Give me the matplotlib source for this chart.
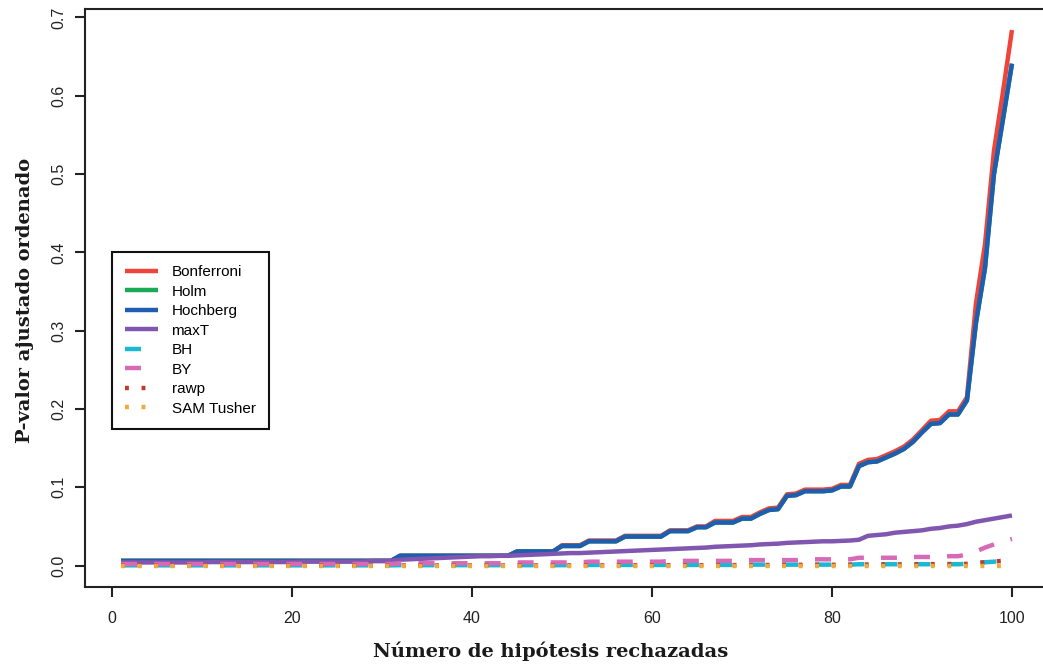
import numpy as np
import matplotlib
matplotlib.use("Agg")
import matplotlib.pyplot as plt

plt.rcParams['font.family'] = ['Liberation Sans', 'DejaVu Sans']
plt.rcParams['lines.scale_dashes'] = False

# rank of rejected hypothesis
n_rejected = list(range(1, 101))

# sorted adjusted p-values per procedure
bonferroni = [
    0.006, 0.006, 0.006, 0.006, 0.006, 0.006, 0.006, 0.006, 0.006, 0.006,
    0.006, 0.006, 0.006, 0.006, 0.006, 0.006, 0.006, 0.006, 0.006, 0.006,
    0.006, 0.006, 0.006, 0.006, 0.006, 0.006, 0.006, 0.006, 0.006, 0.006,
    0.006, 0.0125, 0.0125, 0.0125, 0.0125, 0.0125, 0.0125, 0.0125, 0.0125, 0.0125,
    0.0125, 0.0125, 0.0125, 0.0125, 0.018, 0.018, 0.018, 0.018, 0.018, 0.026,
    0.026, 0.026, 0.032, 0.032, 0.032, 0.032, 0.038, 0.038, 0.038, 0.038,
    0.038, 0.045, 0.045, 0.045, 0.050, 0.050, 0.057, 0.057, 0.057, 0.062,
    0.062, 0.068, 0.073, 0.074, 0.091, 0.092, 0.097, 0.097, 0.097, 0.098,
    0.103, 0.103, 0.130, 0.135, 0.136, 0.141, 0.146, 0.152, 0.161, 0.173,
    0.185, 0.186, 0.197, 0.197, 0.215, 0.335, 0.410, 0.530, 0.605, 0.684,
]

holm = [
    0.006, 0.006, 0.006, 0.006, 0.006, 0.006, 0.006, 0.006, 0.006, 0.006,
    0.006, 0.006, 0.006, 0.006, 0.006, 0.006, 0.006, 0.006, 0.006, 0.006,
    0.006, 0.006, 0.006, 0.006, 0.006, 0.006, 0.006, 0.006, 0.006, 0.006,
    0.006, 0.0125, 0.0125, 0.0125, 0.0125, 0.0125, 0.0125, 0.0125, 0.0125, 0.0125,
    0.0125, 0.0125, 0.0125, 0.0125, 0.018, 0.018, 0.018, 0.018, 0.018, 0.025,
    0.025, 0.025, 0.031, 0.031, 0.031, 0.031, 0.037, 0.037, 0.037, 0.037,
    0.037, 0.044, 0.044, 0.044, 0.049, 0.049, 0.055, 0.055, 0.055, 0.060,
    0.060, 0.066, 0.071, 0.072, 0.089, 0.090, 0.095, 0.095, 0.095, 0.096,
    0.101, 0.101, 0.127, 0.132, 0.133, 0.138, 0.143, 0.149, 0.158, 0.170,
    0.181, 0.182, 0.193, 0.193, 0.211, 0.310, 0.380, 0.500, 0.570, 0.641,
]

hochberg = [
    0.006, 0.006, 0.006, 0.006, 0.006, 0.006, 0.006, 0.006, 0.006, 0.006,
    0.006, 0.006, 0.006, 0.006, 0.006, 0.006, 0.006, 0.006, 0.006, 0.006,
    0.006, 0.006, 0.006, 0.006, 0.006, 0.006, 0.006, 0.006, 0.006, 0.006,
    0.006, 0.0125, 0.0125, 0.0125, 0.0125, 0.0125, 0.0125, 0.0125, 0.0125, 0.0125,
    0.0125, 0.0125, 0.0125, 0.0125, 0.018, 0.018, 0.018, 0.018, 0.018, 0.025,
    0.025, 0.025, 0.031, 0.031, 0.031, 0.031, 0.037, 0.037, 0.037, 0.037,
    0.037, 0.044, 0.044, 0.044, 0.049, 0.049, 0.055, 0.055, 0.055, 0.060,
    0.060, 0.066, 0.071, 0.072, 0.089, 0.090, 0.095, 0.095, 0.095, 0.096,
    0.101, 0.101, 0.127, 0.132, 0.133, 0.138, 0.143, 0.149, 0.158, 0.170,
    0.181, 0.182, 0.193, 0.193, 0.211, 0.310, 0.380, 0.500, 0.570, 0.641,
]

maxt = [
    0.004, 0.004, 0.004, 0.004, 0.004, 0.004, 0.004, 0.004, 0.004, 0.004,
    0.0045, 0.0045, 0.0045, 0.0045, 0.0045, 0.0045, 0.0045, 0.0045, 0.0045, 0.0045,
    0.005, 0.005, 0.005, 0.005, 0.005, 0.005, 0.005, 0.005, 0.006, 0.006,
    0.006, 0.0075, 0.008, 0.0085, 0.009, 0.0095, 0.010, 0.0105, 0.011, 0.0115,
    0.012, 0.012, 0.0125, 0.0125, 0.013, 0.0135, 0.014, 0.0145, 0.015, 0.0155,
    0.016, 0.016, 0.0165, 0.017, 0.0175, 0.018, 0.0185, 0.019, 0.0195, 0.020,
    0.0205, 0.021, 0.0215, 0.022, 0.0225, 0.023, 0.024, 0.0245, 0.025, 0.0255,
    0.026, 0.027, 0.0275, 0.028, 0.029, 0.0295, 0.030, 0.0305, 0.031, 0.031,
    0.0315, 0.032, 0.033, 0.038, 0.039, 0.040, 0.042, 0.043, 0.044, 0.045,
    0.047, 0.048, 0.050, 0.051, 0.053, 0.056, 0.058, 0.060, 0.062, 0.064,
]

bh = [
    0.0003, 0.0003, 0.0003, 0.0003, 0.0003, 0.0003, 0.0003, 0.0003, 0.0003, 0.0003,
    0.0003, 0.0003, 0.0003, 0.0003, 0.0003, 0.0003, 0.0003, 0.0003, 0.0003, 0.0003,
    0.0003, 0.0003, 0.0003, 0.0003, 0.0003, 0.0003, 0.0003, 0.0003, 0.0003, 0.0003,
    0.0003, 0.0005, 0.0005, 0.0005, 0.0005, 0.0005, 0.0005, 0.0005, 0.0005, 0.0005,
    0.0005, 0.0005, 0.0005, 0.0005, 0.0005, 0.0005, 0.0005, 0.0005, 0.0005, 0.0005,
    0.0005, 0.0005, 0.0008, 0.0008, 0.0008, 0.0008, 0.0008, 0.0008, 0.0008, 0.0008,
    0.0008, 0.0008, 0.0008, 0.0008, 0.0008, 0.0008, 0.0008, 0.0008, 0.0008, 0.0012,
    0.0012, 0.0012, 0.0012, 0.0012, 0.0012, 0.0012, 0.0012, 0.0012, 0.0012, 0.0012,
    0.0012, 0.0012, 0.0017, 0.0017, 0.0017, 0.0017, 0.0017, 0.0017, 0.0017, 0.0017,
    0.0017, 0.0017, 0.0017, 0.0017, 0.0023, 0.0035, 0.0042, 0.0050, 0.0056, 0.0062,
]

by = [
    0.002, 0.002, 0.002, 0.002, 0.002, 0.002, 0.002, 0.002, 0.002, 0.002,
    0.002, 0.002, 0.002, 0.002, 0.002, 0.002, 0.002, 0.002, 0.002, 0.002,
    0.002, 0.002, 0.002, 0.002, 0.002, 0.002, 0.002, 0.002, 0.002, 0.002,
    0.002, 0.003, 0.003, 0.003, 0.003, 0.003, 0.003, 0.003, 0.003, 0.003,
    0.003, 0.003, 0.003, 0.003, 0.004, 0.004, 0.004, 0.004, 0.004, 0.004,
    0.004, 0.004, 0.005, 0.005, 0.005, 0.005, 0.005, 0.005, 0.005, 0.005,
    0.005, 0.006, 0.006, 0.006, 0.006, 0.006, 0.006, 0.006, 0.006, 0.007,
    0.007, 0.007, 0.007, 0.007, 0.007, 0.007, 0.008, 0.008, 0.008, 0.008,
    0.008, 0.008, 0.010, 0.010, 0.010, 0.010, 0.010, 0.010, 0.011, 0.011,
    0.011, 0.011, 0.012, 0.012, 0.014, 0.018, 0.023, 0.027, 0.031, 0.034,
]

rawp = [
    0.00006, 0.00006, 0.00006, 0.00006, 0.00006, 0.00006, 0.00006, 0.00006, 0.00006, 0.00006,
    0.00006, 0.00006, 0.00006, 0.00006, 0.00006, 0.00006, 0.00006, 0.00006, 0.00006, 0.00006,
    0.00006, 0.00006, 0.00006, 0.00006, 0.00006, 0.00006, 0.00006, 0.00006, 0.00006, 0.00006,
    0.00006, 0.00013, 0.00013, 0.00013, 0.00013, 0.00013, 0.00013, 0.00013, 0.00013, 0.00013,
    0.00013, 0.00013, 0.00013, 0.00013, 0.00018, 0.00018, 0.00018, 0.00018, 0.00018, 0.00026,
    0.00026, 0.00026, 0.00032, 0.00032, 0.00032, 0.00032, 0.00038, 0.00038, 0.00038, 0.00038,
    0.00038, 0.00045, 0.00045, 0.00045, 0.00050, 0.00050, 0.00057, 0.00057, 0.00057, 0.00062,
    0.00062, 0.00068, 0.00073, 0.00074, 0.00091, 0.00092, 0.00097, 0.00097, 0.00097, 0.00098,
    0.00103, 0.00103, 0.00130, 0.00135, 0.00136, 0.00141, 0.00146, 0.00152, 0.00161, 0.00173,
    0.00185, 0.00186, 0.00197, 0.00197, 0.00215, 0.00335, 0.00410, 0.00530, 0.00605, 0.00684,
]

sam_tusher = [
    0.0, 0.0, 0.0, 0.0, 0.0, 0.0, 0.0, 0.0, 0.0, 0.0,
    0.0, 0.0, 0.0, 0.0, 0.0, 0.0, 0.0, 0.0, 0.0, 0.0,
    0.0, 0.0, 0.0, 0.0, 0.0, 0.0, 0.0, 0.0, 0.0, 0.0,
    0.0, 0.0, 0.0, 0.0, 0.0, 0.0, 0.0, 0.0, 0.0, 0.0,
    0.0, 0.0, 0.0, 0.0, 0.0, 0.0, 0.0, 0.0, 0.0, 0.0,
    0.0, 0.0, 0.0, 0.0, 0.0, 0.0, 0.0, 0.0, 0.0, 0.0,
    0.0, 0.0, 0.0, 0.0, 0.0, 0.0, 0.0, 0.0, 0.0, 0.0,
    0.0, 0.0, 0.0, 0.0, 0.0, 0.0, 0.0, 0.0, 0.0, 0.0,
    0.0, 0.0, 0.0, 0.0, 0.0, 0.0, 0.0, 0.0, 0.0, 0.0,
    0.0, 0.0, 0.0, 0.0, 0.0, 0.0, 0.0, 0.0, 0.0, 0.0,
]

labels = ['Bonferroni', 'Holm', 'Hochberg', 'maxT', 'BH', 'BY', 'rawp', 'SAM Tusher']

DASH = (0, (11.5, 12.3))
DOT = (0, (2.8, 9.1))

fig = plt.figure(figsize=(10.43, 6.66), dpi=100)
ax = fig.add_axes([85.4 / 1043, 79 / 666, 962.2 / 1043, 578.4 / 666])

lw = 3.2
ax.plot(n_rejected, bonferroni, color='#f0433a', lw=lw, solid_capstyle='butt', label=labels[0])
ax.plot(n_rejected, holm, color='#1aaa55', lw=lw, solid_capstyle='butt', label=labels[1])
ax.plot(n_rejected, hochberg, color='#1f5db0', lw=lw, solid_capstyle='butt', label=labels[2])
ax.plot(n_rejected, maxt, color='#8056b0', lw=lw, solid_capstyle='butt', label=labels[3])
ax.plot(n_rejected, bh, color='#1bb8d4', lw=lw, ls=DASH, dash_capstyle='butt', label=labels[4])
ax.plot(n_rejected, by, color='#d66ab6', lw=lw, ls=DASH, dash_capstyle='butt', label=labels[5])
ax.plot(n_rejected, rawp, color='#c0392b', lw=lw, ls=DOT, dash_capstyle='butt', label=labels[6])
ax.plot(n_rejected, sam_tusher, color='#f2a93b', lw=lw, ls=DOT, dash_capstyle='butt', label=labels[7])

ax.set_xlim(-2.96, 103.96)
ax.set_ylim(-0.02736, 0.71136)
ax.set_xticks([0, 20, 40, 60, 80, 100])
ax.set_yticks([0.0, 0.1, 0.2, 0.3, 0.4, 0.5, 0.6, 0.7])
ax.set_yticklabels(['0.0', '0.1', '0.2', '0.3', '0.4', '0.5', '0.6', '0.7'])

for s in ax.spines.values():
    s.set_linewidth(1.5)
    s.set_color('#222222')

ax.tick_params(direction='out', length=7, width=1.5, color='#222222',
               labelsize=11.5, labelcolor='#222222')
ax.tick_params(axis='x', pad=10)
ax.tick_params(axis='y', pad=7, labelrotation=90)
for t in ax.get_yticklabels():
    t.set_va('center')

label_font = dict(family='DejaVu Serif', weight='bold', size=14, color='#1a1a1a')
ax.set_xlabel('Número de hipótesis rechazadas', **label_font)
ax.set_ylabel('P-valor ajustado ordenado', **label_font)
ax.xaxis.set_label_coords(0.484, -0.111)
ax.xaxis.label.set_va('center')
ax.yaxis.set_label_coords(-0.0628, 0.496)
ax.yaxis.label.set_va('center')

leg = ax.legend(loc='upper left', bbox_to_anchor=(0.0276, 0.579), fontsize=11,
                frameon=True, fancybox=False, framealpha=1, edgecolor='#111111',
                handlelength=2.15, handletextpad=0.9, labelspacing=0.36,
                borderpad=0.85, borderaxespad=0)
leg.get_frame().set_linewidth(1.5)

fig.savefig('out.png', dpi=100)
